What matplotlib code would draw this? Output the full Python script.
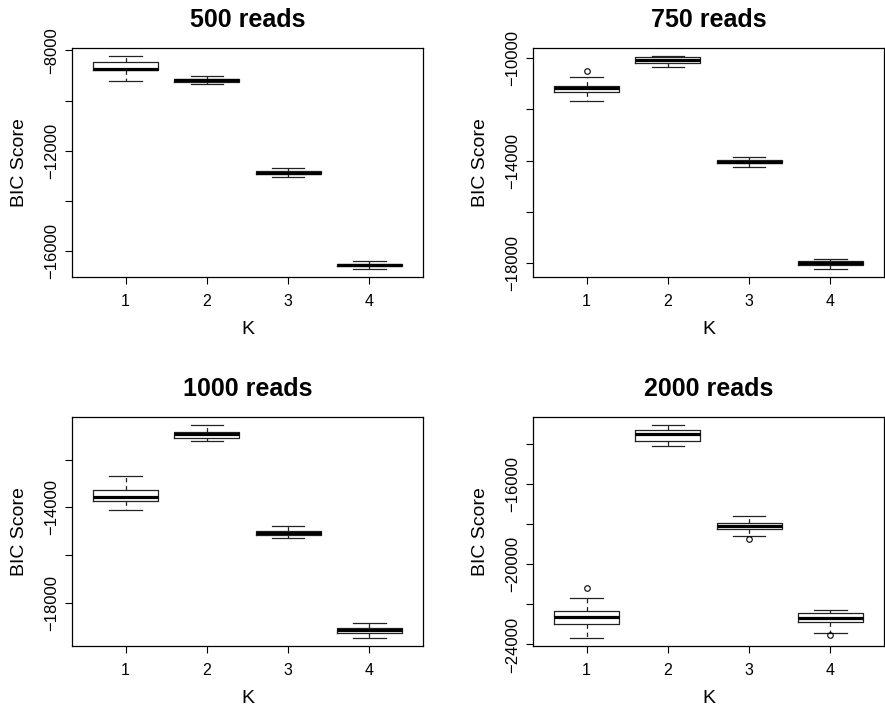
import matplotlib
matplotlib.use("Agg")
import matplotlib.pyplot as plt

plt.rcParams['font.family'] = ['Liberation Sans', 'DejaVu Sans']

# K = 1..4 on every panel
k_values = [1, 2, 3, 4]
titles = ["500 reads", "750 reads", "1000 reads", "2000 reads"]

# five-number summaries per panel, one entry per K
whis_lo = [[-9213, -9347, -13040, -16707],
           [-11673, -10327, -14248, -18221],
           [-14126, -11231, -15301, -19455],
           [-23654, -14116, -18608, -23429]]
q1 = [[-8773, -9253, -12933, -16600],
      [-11333, -10209, -14117, -18077],
      [-13734, -11077, -15161, -19273],
      [-22957, -13884, -18276, -22864]]
medians = [[-8733, -9187, -12880, -16547],
           [-11176, -10065, -14065, -17999],
           [-13566, -10923, -15077, -19161],
           [-22625, -13518, -18110, -22665]]
q3 = [[-8480, -9120, -12827, -16507],
      [-11085, -9974, -13987, -17920],
      [-13259, -10839, -14979, -19077],
      [-22326, -13352, -17977, -22449]]
whis_hi = [[-8240, -9013, -12707, -16413],
           [-10719, -9935, -13882, -17855],
           [-12685, -10573, -14769, -18853],
           [-21694, -13103, -17595, -22266]]
outliers = [[[], [], [], []],
            [[-10484], [], [], []],
            [[], [], [], []],
            [[-21213], [], [-18774], [-23512]]]

# y ticks every 2000, only some of them labelled (as R drops overlapping ones)
yticks = [[-16000, -14000, -12000, -10000, -8000],
          [-18000, -16000, -14000, -12000, -10000],
          [-18000, -16000, -14000, -12000],
          [-24000, -22000, -20000, -18000, -16000, -14000]]
ylabelled = [[-16000, -12000, -8000],
             [-18000, -14000, -10000],
             [-18000, -14000],
             [-24000, -20000, -16000]]

fig = plt.figure(figsize=(8.85, 7.09), dpi=100)
W, H = 885, 709
boxes_px = [(72, 48), (533, 48), (72, 417), (533, 417)]
aw, ah = 351, 229

for i in range(4):
    x0, y0 = boxes_px[i]
    ax = fig.add_axes([x0 / W, 1 - (y0 + ah) / H, aw / W, ah / H])
    stats = []
    for j in range(4):
        stats.append(dict(med=medians[i][j], q1=q1[i][j], q3=q3[i][j],
                          whislo=whis_lo[i][j], whishi=whis_hi[i][j],
                          fliers=outliers[i][j]))
    ax.bxp(stats, positions=k_values, widths=0.8, showfliers=True,
           boxprops=dict(color='#222222', linewidth=0.9),
           whiskerprops=dict(color='#222222', linewidth=0.9, linestyle=(0, (3.5, 3))),
           capprops=dict(color='#222222', linewidth=0.9),
           capwidths=0.4,
           medianprops=dict(color='black', linewidth=2.3, solid_capstyle='butt'),
           flierprops=dict(marker='o', markersize=4, markerfacecolor='none',
                           markeredgecolor='black', markeredgewidth=0.8))

    # R-style range: data extent plus 4% on each side
    lo = min(min(whis_lo[i]), min([v for f in outliers[i] for v in f] or [0]))
    hi = max(max(whis_hi[i]), max([v for f in outliers[i] for v in f] or [-1e9]))
    pad = 0.04 * (hi - lo)
    ax.set_ylim(lo - pad, hi + pad)
    ax.set_xlim(0.34, 4.66)

    ax.set_yticks(yticks[i])
    ax.set_yticklabels([f"\u2212{abs(v)}" if v in ylabelled[i] else "" for v in yticks[i]],
                       rotation=90, va='center', ha='right')
    ax.set_xticks(k_values)
    ax.set_xticklabels([str(k) for k in k_values])
    ax.tick_params(direction='out', length=5, width=0.8, labelsize=11.5, pad=7)
    ax.tick_params(axis='y', pad=4, labelsize=12)

    for s in ax.spines.values():
        s.set_linewidth(0.9)

    ax.set_title(titles[i], fontsize=18, fontweight='bold', pad=15)
    ax.set_xlabel("K", fontsize=14, labelpad=9)
    ax.set_ylabel("BIC Score", fontsize=14, labelpad=12)

fig.savefig("out.png", dpi=100)
